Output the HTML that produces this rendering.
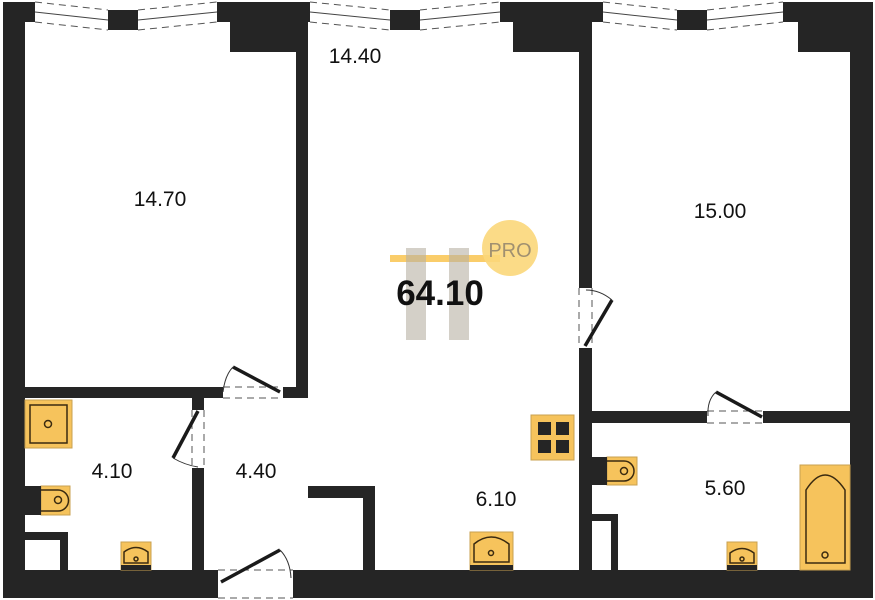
<!DOCTYPE html>
<html><head><meta charset="utf-8"><style>
html,body{margin:0;padding:0;background:#fff}
svg{display:block}
text{font-family:"Liberation Sans",sans-serif;fill:#111}
</style></head><body>
<svg width="875" height="600" viewBox="0 0 875 600" xmlns="http://www.w3.org/2000/svg">
<g fill="#252525">
<!-- outer -->
<rect x="3" y="2" width="22" height="596"/>
<rect x="3" y="2" width="32" height="20"/>
<rect x="850" y="2" width="23" height="596"/>
<rect x="3" y="570" width="215" height="28"/>
<rect x="293" y="570" width="580" height="28"/>
<!-- top blocks -->
<rect x="217" y="2" width="93" height="20"/>
<rect x="230" y="22" width="67" height="30"/>
<rect x="500" y="2" width="103" height="20"/>
<rect x="513" y="22" width="67" height="30"/>
<rect x="783" y="2" width="90" height="20"/>
<rect x="798" y="22" width="52" height="30"/>
<!-- window centres -->
<rect x="108" y="10" width="30" height="20"/>
<rect x="390" y="10" width="30" height="20"/>
<rect x="677" y="10" width="30" height="20"/>
<!-- interior walls -->
<rect x="296" y="22" width="12" height="376"/>
<rect x="25" y="387" width="198" height="11"/>
<rect x="283" y="387" width="25" height="11"/>
<rect x="192" y="398" width="12" height="12"/>
<rect x="192" y="468" width="12" height="102"/>
<rect x="25" y="532" width="43" height="8"/>
<rect x="60" y="532" width="8" height="38"/>
<rect x="308" y="486" width="67" height="12"/>
<rect x="363" y="486" width="12" height="84"/>
<rect x="579" y="22" width="13" height="266"/>
<rect x="579" y="348" width="13" height="222"/>
<rect x="592" y="411" width="115" height="12"/>
<rect x="763" y="411" width="87" height="12"/>
<rect x="592" y="514" width="25" height="7"/>
<rect x="611" y="514" width="7" height="56"/>
</g>
<!-- windows lines -->
<g stroke="#444" stroke-width="1" fill="none">
<path d="M35 12 L108 20 M138 20 L217 12"/>
<path d="M310 12 L390 20 M420 20 L500 12"/>
<path d="M603 12 L677 20 M707 20 L783 12"/>
</g>
<g stroke="#555" stroke-width="1" stroke-dasharray="7,5" fill="none">
<path d="M35 2 L108 10 M138 10 L217 2 M35 22 L108 30 M138 30 L217 22"/>
<path d="M310 2 L390 10 M420 10 L500 2 M310 22 L390 30 M420 30 L500 22"/>
<path d="M603 2 L677 10 M707 10 L783 2 M603 22 L677 30 M707 30 L783 22"/>
<!-- door gaps -->
<path d="M223 387 H283 M223 398 H283"/>
<path d="M192 410 V468 M204 410 V468"/>
<path d="M218 570 H293 M218 598 H293"/>
<path d="M579 288 V348 M592 288 V348"/>
<path d="M707 411 H763 M707 423 H763"/>
</g>
<!-- door leaves -->
<g stroke="#1a1a1a" stroke-width="3.5" fill="none">
<line x1="280" y1="392" x2="233" y2="367"/>
<line x1="198" y1="411" x2="173" y2="458"/>
<line x1="221" y1="582" x2="280" y2="550"/>
<line x1="585" y1="346" x2="612" y2="300"/>
<line x1="762" y1="417" x2="716" y2="392"/>
</g>
<g stroke="#333" stroke-width="1" fill="none">
<path d="M233 367 Q225 375 223 392"/>
<path d="M173 458 Q185 465 198 467"/>
<path d="M280 550 Q290 560 291 578"/>
<path d="M612 300 Q600 290 586 290"/>
<path d="M716 392 Q707 400 708 416"/>
</g>
<!-- fixtures -->
<g fill="#f6c35c" stroke="#c8a050" stroke-width="1">
<rect x="25" y="400" width="47" height="48"/>
<rect x="41" y="486" width="29" height="29"/>
<rect x="121" y="542" width="30" height="28"/>
<rect x="470" y="532" width="43" height="38"/>
<rect x="531" y="415" width="43" height="45"/>
<rect x="607" y="457" width="30" height="28"/>
<rect x="727" y="542" width="30" height="28"/>
<rect x="800" y="465" width="50" height="105"/>
</g>
<g fill="#252525">
<rect x="25" y="486" width="16" height="29"/>
<rect x="592" y="457" width="15" height="28"/>
<rect x="538" y="422" width="13" height="13"/><rect x="556" y="422" width="13" height="13"/>
<rect x="538" y="440" width="13" height="13"/><rect x="556" y="440" width="13" height="13"/>
<rect x="121" y="565" width="30" height="5"/><rect x="470" y="565" width="43" height="5"/><rect x="727" y="565" width="30" height="5"/>
</g>
<g fill="none" stroke="#3a2a10" stroke-width="1.5">
<rect x="30" y="405" width="37" height="38"/>
<circle cx="48" cy="424" r="3.5"/>
<path d="M41 490 H58 A10 10 0 0 1 58 511 H41"/><circle cx="58" cy="500" r="3.5"/>
<path d="M124 563 V552 Q136 543 148 552 V563 Z"/><circle cx="136" cy="559" r="2"/>
<path d="M474 562 V544 Q491 530 509 544 V562 Z"/><circle cx="491" cy="553" r="2.5"/>
<path d="M607 461 H624 A10 10 0 0 1 624 481 H607"/><circle cx="624" cy="471" r="3.5"/>
<path d="M730 563 V553 Q742 544 754 553 V563 Z"/><circle cx="742" cy="559" r="2"/>
<path d="M806 563 V490 Q825 460 845 490 V563 Z"/><circle cx="825" cy="555" r="3"/>
</g>
<!-- watermark -->
<rect x="390" y="255" width="110" height="7" fill="#f9c85a" opacity="0.9"/>
<circle cx="510" cy="248" r="28" fill="#fbd77a" opacity="0.9"/>
<text x="510" y="257" font-size="20" text-anchor="middle" style="fill:#a09070">PRO</text>
<rect x="406" y="248" width="20" height="92" fill="#b8b0a4" opacity="0.6"/>
<rect x="449" y="248" width="20" height="92" fill="#b8b0a4" opacity="0.6"/>
<!-- labels -->
<g font-size="21">
<text x="160" y="206" text-anchor="middle">14.70</text>
<text x="355" y="63" text-anchor="middle">14.40</text>
<text x="720" y="218" text-anchor="middle">15.00</text>
<text x="112" y="478" text-anchor="middle">4.10</text>
<text x="256" y="478" text-anchor="middle">4.40</text>
<text x="496" y="506" text-anchor="middle">6.10</text>
<text x="725" y="495" text-anchor="middle">5.60</text>
</g>
<text x="440" y="305" font-size="35" font-weight="bold" text-anchor="middle">64.10</text>
</svg>
</body></html>
